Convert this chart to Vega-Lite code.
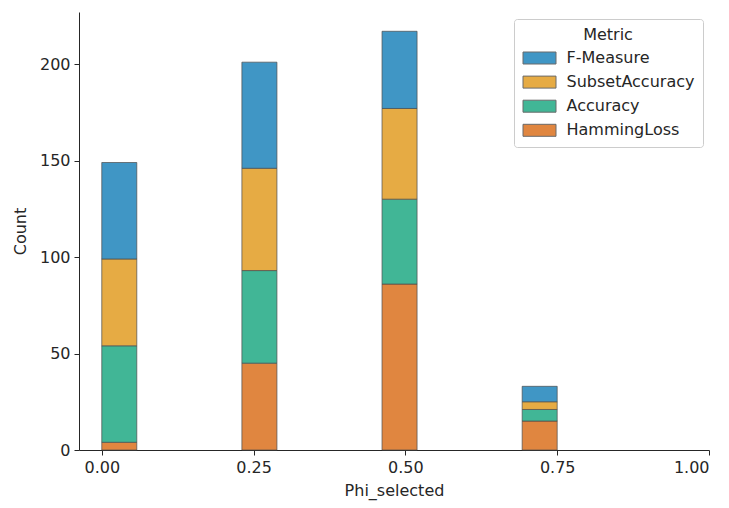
{
  "$schema": "https://vega.github.io/schema/vega-lite/v6.json",
  "width": 630,
  "height": 438,
  "autosize": {"type": "none"},
  "padding": {"left": 79, "top": 12, "right": 20, "bottom": 58},
  "background": "white",
  "data": {
    "values": [
      {"phi": 0, "metric": "HammingLoss", "count": 4},
      {"phi": 0, "metric": "Accuracy", "count": 50},
      {"phi": 0, "metric": "SubsetAccuracy", "count": 45},
      {"phi": 0, "metric": "F-Measure", "count": 50},
      {"phi": 0.25, "metric": "HammingLoss", "count": 45},
      {"phi": 0.25, "metric": "Accuracy", "count": 48},
      {"phi": 0.25, "metric": "SubsetAccuracy", "count": 53},
      {"phi": 0.25, "metric": "F-Measure", "count": 55},
      {"phi": 0.5, "metric": "HammingLoss", "count": 86},
      {"phi": 0.5, "metric": "Accuracy", "count": 44},
      {"phi": 0.5, "metric": "SubsetAccuracy", "count": 47},
      {"phi": 0.5, "metric": "F-Measure", "count": 40},
      {"phi": 0.75, "metric": "HammingLoss", "count": 15},
      {"phi": 0.75, "metric": "Accuracy", "count": 6},
      {"phi": 0.75, "metric": "SubsetAccuracy", "count": 4},
      {"phi": 0.75, "metric": "F-Measure", "count": 8}
    ]
  },
  "transform": [
    {"bin": {"extent": [0, 0.75], "step": 0.057692307692307696, "nice": false}, "field": "phi", "as": "phi_bin"},
    {"calculate": "indexof(['HammingLoss','Accuracy','SubsetAccuracy','F-Measure'], datum.metric)", "as": "stack_order"},
    {"stack": "count", "groupby": ["phi_bin"], "sort": [{"field": "stack_order", "order": "ascending"}], "as": ["y_lo", "y_hi"]}
  ],
  "mark": {"type": "bar", "stroke": "#4d4d4d", "strokeOpacity": 0.7, "strokeWidth": 1},
  "encoding": {
    "x": {
      "field": "phi_bin",
      "type": "quantitative",
      "scale": {"domain": [-0.0375, 1.0], "nice": false, "zero": false},
      "axis": {"values": [0, 0.25, 0.5, 0.75, 1.0], "format": ".2f", "title": "Phi_selected", "titlePadding": 7}
    },
    "x2": {"field": "phi_bin_end"},
    "y": {
      "field": "y_hi",
      "type": "quantitative",
      "scale": {"domain": [0, 227], "nice": false},
      "axis": {"values": [0, 50, 100, 150, 200], "title": "Count", "titlePadding": 11}
    },
    "y2": {"field": "y_lo"},
    "color": {
      "field": "metric",
      "type": "nominal",
      "scale": {
        "domain": ["F-Measure", "SubsetAccuracy", "Accuracy", "HammingLoss"],
        "range": ["#4096c5", "#e6ab44", "#41b696", "#e08640"]
      },
      "legend": {
        "title": "Metric",
        "orient": "none",
        "legendX": 435,
        "legendY": 7,
        "symbolType": "M-2.75,-1H2.75V1H-2.75Z",
        "symbolSize": 144,
        "symbolOffset": 9.5,
        "symbolStrokeColor": "#6a6a6a",
        "symbolStrokeWidth": 1,
        "symbolOpacity": 1,
        "labelOffset": 19,
        "rowPadding": 8.1,
        "titlePadding": 7,
        "padding": 8,
        "strokeColor": "#cccccc",
        "fillColor": "white",
        "cornerRadius": 3,
        "titleAnchor": "middle",
        "titleAlign": "center"
      }
    }
  },
  "config": {
    "view": {"stroke": null},
    "font": "DejaVu Sans",
    "axis": {
      "grid": false,
      "domainColor": "#262626",
      "domainWidth": 1,
      "tickColor": "#262626",
      "tickWidth": 1,
      "tickSize": 5,
      "labelColor": "#262626",
      "titleColor": "#262626",
      "labelFont": "DejaVu Sans",
      "titleFont": "DejaVu Sans",
      "labelFontSize": 16,
      "titleFontSize": 16,
      "titleFontWeight": "normal",
      "labelPadding": 4
    },
    "legend": {
      "labelFont": "DejaVu Sans",
      "titleFont": "DejaVu Sans",
      "labelFontSize": 16,
      "titleFontSize": 16,
      "titleFontWeight": "normal",
      "labelColor": "#262626",
      "titleColor": "#262626"
    }
  }
}
